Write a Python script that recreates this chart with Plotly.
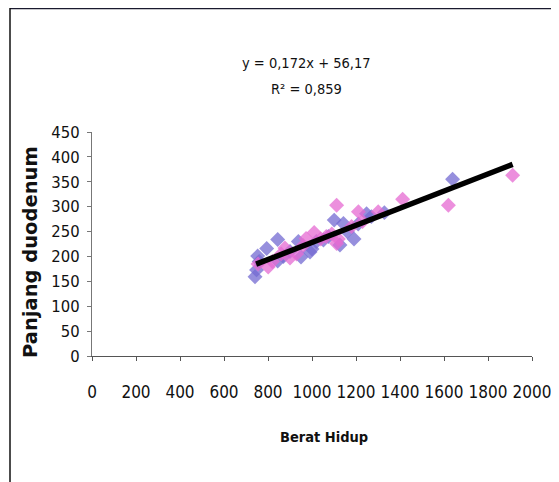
import plotly.graph_objects as go

# Data
blue_x = [741, 748, 753, 760, 794, 844, 844, 870, 900, 938, 950, 991, 1000, 1020,
          1052, 1075, 1101, 1127, 1143, 1160, 1191, 1210, 1248, 1270, 1329, 1639]
blue_y = [159, 173, 201, 190, 216, 234, 191, 200, 210, 230, 199, 209, 215, 230,
          233, 240, 273, 223, 266, 250, 235, 265, 286, 280, 288, 355]

pink_x = [755, 801, 820, 860, 877, 900, 930, 960, 973, 1010, 1040, 1065, 1090,
          1112, 1112, 1120, 1180, 1211, 1230, 1301, 1412, 1620, 1912]
pink_y = [185, 179, 190, 205, 217, 197, 205, 222, 236, 248, 235, 240, 245,
          303, 226, 235, 260, 290, 270, 290, 315, 303, 363]

slope = 0.172
intercept = 56.17
r2 = 0.859

x_ticks = [0, 200, 400, 600, 800, 1000, 1200, 1400, 1600, 1800, 2000]
y_ticks = [0, 50, 100, 150, 200, 250, 300, 350, 400, 450]

all_x = blue_x + pink_x
x0, x1 = min(all_x) + 5, max(all_x)
trend_x = [x0, x1]
trend_y = [slope * v + intercept for v in trend_x]

NARROW = "DejaVu Sans Condensed, Liberation Sans Narrow, Arial Narrow, sans-serif"
WIDE = "DejaVu Sans, Verdana, sans-serif"

# page has an 8px body margin; work in window pixels and convert
OFF = 8
W, H = 559 - OFF, 482 - OFF
L, R, T, B = 92 - OFF, 532 - OFF, 132 - OFF, 356 - OFF

def px(x):
    return (x - OFF - L) / (R - L)

def py(y):
    return (B - (y - OFF)) / (B - T)

def dec(v):
    return str(v).replace(".", ",")

fig = go.Figure()
fig.add_trace(go.Scatter(x=blue_x, y=blue_y, mode="markers",
                         marker=dict(symbol="diamond", size=11.5, color="rgba(115,105,210,0.75)",
                                     line=dict(width=0)), showlegend=False))
fig.add_trace(go.Scatter(x=pink_x, y=pink_y, mode="markers",
                         marker=dict(symbol="diamond", size=11.5, color="rgba(230,105,210,0.75)",
                                     line=dict(width=0)), showlegend=False))
fig.add_trace(go.Scatter(x=trend_x, y=trend_y, mode="lines",
                         line=dict(color="black", width=5.5), showlegend=False))

fig.update_layout(
    width=W, height=H,
    margin=dict(l=L, r=W - R, t=T, b=H - B),
    paper_bgcolor="white", plot_bgcolor="white",
    font=dict(family=NARROW, size=15, color="#111"),
    xaxis=dict(range=[0, 2000], tickvals=x_ticks, ticktext=[str(v) for v in x_ticks],
               showgrid=False, zeroline=False, showline=True, linecolor="#555", linewidth=1,
               ticks="outside", ticklen=4, tickcolor="#555", automargin=False,
               ticklabelstandoff=17,
               tickfont=dict(family=NARROW, size=17, color="#111")),
    yaxis=dict(range=[0, 450], tickvals=y_ticks, ticktext=[str(v) for v in y_ticks],
               showgrid=False, zeroline=False, showline=True, linecolor="#777", linewidth=1,
               ticks="outside", ticklen=4, tickcolor="#777", automargin=False,
               ticklabelstandoff=4,
               tickfont=dict(family=NARROW, size=16.5, color="#111")),
    annotations=[
        dict(text=f"y = {dec(slope)}x + {dec(intercept)}",
             xref="paper", yref="paper", x=px(306), y=py(63),
             showarrow=False, font=dict(family=NARROW, size=14.5, color="#111"),
             xanchor="center", yanchor="middle"),
        dict(text=f"R² = {dec(r2)}",
             xref="paper", yref="paper", x=px(306), y=py(89),
             showarrow=False, font=dict(family=NARROW, size=14.5, color="#111"),
             xanchor="center", yanchor="middle"),
        dict(text="<b>Berat Hidup</b>", xref="paper", yref="paper", x=px(324), y=py(437),
             showarrow=False, font=dict(family=NARROW, size=14.5, color="#111"),
             xanchor="center", yanchor="middle"),
        dict(text="<b>Panjang duodenum</b>", xref="paper", yref="paper", x=px(30), y=py(252),
             showarrow=False, textangle=-90, font=dict(family=WIDE, size=19.5, color="#111"),
             xanchor="center", yanchor="middle"),
    ],
    shapes=[
        dict(type="line", xref="paper", yref="paper",
             x0=px(10), x1=px(565), y0=py(8), y1=py(8),
             line=dict(color="#1a1a2e", width=2.5)),
        dict(type="line", xref="paper", yref="paper",
             x0=px(10), x1=px(10), y0=py(8), y1=py(490),
             line=dict(color="#111", width=1.5)),
    ],
)

fig.write_html("out.html")
